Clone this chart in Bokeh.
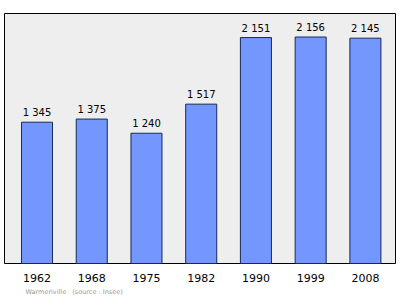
from bokeh.plotting import figure
from bokeh.models import FixedTicker, Range1d, Title, ColumnDataSource
from bokeh.core.properties import value
from bokeh.embed import file_html
from bokeh.resources import INLINE

years = ["1962", "1968", "1975", "1982", "1990", "1999", "2008"]
population = [1345, 1375, 1240, 1517, 2151, 2156, 2145]
labels = ["1 345", "1 375", "1 240", "1 517", "2 151", "2 156", "2 145"]

idx = list(range(len(years)))
src = ColumnDataSource(dict(x=idx, top=population, lab=labels))

p = figure(width=400, height=299, output_backend="svg", toolbar_location=None,
           x_range=Range1d(-0.594, 6.55), y_range=Range1d(0, 2380),
           min_border_left=4, min_border_right=5, min_border_top=13, min_border_bottom=36)

p.background_fill_color = "#eeeeee"
p.border_fill_color = "white"
p.outline_line_color = "black"
p.outline_line_width = 1
p.grid.visible = False

p.vbar(x="x", top="top", bottom=0, width=0.567, source=src,
       fill_color="#7396ff", line_color="#1a2a55", line_width=1)

p.text(x="x", y="top", text="lab", source=src, text_align="center",
       text_baseline="bottom", y_offset=-4, text_font_size="10px",
       text_font=value("DejaVu Sans"), text_color="black")

p.yaxis.visible = False
p.xaxis.ticker = FixedTicker(ticks=idx)
p.xaxis.major_label_overrides = {i: y for i, y in zip(idx, years)}
p.xaxis.axis_line_color = None
p.xaxis.major_tick_line_color = None
p.xaxis.minor_tick_line_color = None
p.xaxis.major_label_standoff = 4
p.xaxis.major_label_text_font = "DejaVu Sans"
p.xaxis.major_label_text_font_size = "11px"
p.xaxis.major_label_text_color = "black"

p.add_layout(Title(text="Warmeriville\u00a0\u00a0\u00a0(source\u00a0:\u00a0Insee)", align="left",
                   text_font="DejaVu Sans", text_font_size="6.5px",
                   text_color="#999999", text_font_style="normal",
                   offset=21, standoff=3), "below")

open("out.html", "w").write(file_html(p, INLINE))
